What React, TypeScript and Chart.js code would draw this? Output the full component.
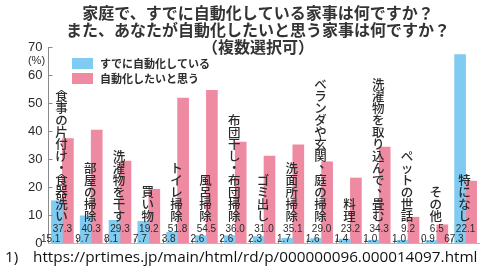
import React, { useEffect, useRef } from "react";
import { Chart, registerables } from "chart.js";

Chart.register(...registerables);

const titleLines = [
  "家庭で、すでに自動化している家事は何ですか？",
  "また、あなたが自動化したいと思う家事は何ですか？",
  "（複数選択可）",
];
const categories = [
  "食事の片付け・食器洗い",
  "部屋の掃除",
  "洗濯物を干す",
  "買い物",
  "トイレ掃除",
  "風呂掃除",
  "布団干し・布団掃除",
  "ゴミ出し",
  "洗面所掃除",
  "ベランダや玄関、庭の掃除",
  "料理",
  "洗濯物を取り込んで、畳む",
  "ペットの世話",
  "その他",
  "特になし",
];
const alreadyAutomated = [15.1, 9.7, 8.1, 7.7, 3.8, 2.6, 2.6, 2.3, 1.7, 1.6, 1.4, 1.0, 1.0, 0.9, 67.3];
const wantToAutomate = [37.3, 40.3, 29.3, 19.2, 51.8, 54.5, 36.0, 31.0, 35.1, 29.0, 23.2, 34.3, 9.2, 6.5, 22.1];
const seriesNames = ["すでに自動化している", "自動化したいと思う"];
const yTicks = [0, 10, 20, 30, 40, 50, 60, 70];
const yUnit = "(%)";
const sourceNote = "1)";
const sourceUrl = "https://prtimes.jp/main/html/rd/p/000000096.000014097.html";

const BLUE = "#7fcbf1";
const PINK = "#ee8aa1";
const TEXT = "#2b2b2b";
const AXIS = "#8a8a8a";
const JP = '"Noto Sans CJK JP", "Noto Sans", sans-serif';
const NUM = '"Liberation Sans", Arial, sans-serif';

const overlay = {
  id: "overlay",
  afterDatasetsDraw(chart: any) {
    const { ctx, chartArea, scales } = chart;
    const x = scales.x;
    const y = scales.y;
    const n = categories.length;
    const pitch = (chartArea.right - chartArea.left) / n;
    ctx.save();

    // y axis line + inward ticks + labels
    ctx.strokeStyle = AXIS;
    ctx.lineWidth = 1;
    const ax = Math.round(chartArea.left) + 0.5;
    ctx.beginPath();
    ctx.moveTo(ax, y.getPixelForValue(70));
    ctx.lineTo(ax, y.getPixelForValue(0));
    ctx.stroke();
    ctx.fillStyle = TEXT;
    ctx.font = `13px ${NUM}`;
    ctx.textAlign = "right";
    ctx.textBaseline = "middle";
    yTicks.forEach((t) => {
      const py = Math.round(y.getPixelForValue(t)) + 0.5;
      ctx.beginPath();
      ctx.moveTo(ax, py);
      ctx.lineTo(ax + 4, py);
      ctx.stroke();
      ctx.fillText(String(t), ax - 6, py);
    });
    ctx.font = `11px ${NUM}`;
    ctx.textAlign = "center";
    ctx.fillText(yUnit, ax - 12, y.getPixelForValue(70) + 14);

    // baseline + category boundary ticks
    const by = Math.round(y.getPixelForValue(0)) + 0.5;
    ctx.strokeStyle = "#b8b8b8";
    ctx.beginPath();
    ctx.moveTo(ax, by);
    ctx.lineTo(chartArea.right, by);
    ctx.stroke();
    ctx.strokeStyle = AXIS;
    for (let i = 1; i < n; i++) {
      const bx = Math.round(x.getPixelForValue(i) - pitch / 2) + 0.5;
      ctx.beginPath();
      ctx.moveTo(bx, by);
      ctx.lineTo(bx, by - 5);
      ctx.stroke();
    }

    // category labels (vertical)
    ctx.fillStyle = TEXT;
    ctx.font = `500 12.5px ${JP}`;
    ctx.textAlign = "center";
    ctx.textBaseline = "middle";
    categories.forEach((label, i) => {
      const cx = x.getPixelForValue(i) - 1;
      const chars = Array.from(label);
      const bottom = y.getPixelForValue(0) - 27;
      chars.forEach((ch, k) => {
        const cy = bottom - (chars.length - 1 - k) * 12;
        if (ch === "、" || ch === "。") {
          ctx.fillText(ch, cx + 5, cy - 5);
        } else {
          ctx.fillText(ch, cx, cy);
        }
      });
    });

    // value labels
    ctx.font = `10px ${NUM}`;
    categories.forEach((_, i) => {
      const cx = x.getPixelForValue(i);
      ctx.textAlign = "center";
      ctx.fillText(wantToAutomate[i].toFixed(1), cx, y.getPixelForValue(0) - 13.5);
      ctx.textAlign = "right";
      ctx.fillText(alreadyAutomated[i].toFixed(1), cx - 2, y.getPixelForValue(0) - 3.5);
    });

    // legend
    const lx = 72;
    [BLUE, PINK].forEach((c, k) => {
      const ly = 58 + k * 15;
      ctx.fillStyle = c;
      ctx.fillRect(lx, ly, 21, 11);
      ctx.fillStyle = TEXT;
      ctx.font = `bold 11px ${JP}`;
      ctx.textAlign = "left";
      ctx.textBaseline = "middle";
      ctx.fillText(seriesNames[k], lx + 28, ly + 6);
    });

    // title
    ctx.fillStyle = "#333";
    ctx.font = `bold 16px ${JP}`;
    ctx.textAlign = "center";
    ctx.textBaseline = "middle";
    titleLines.forEach((line, k) => {
      ctx.fillText(line, 258, 13 + k * 17);
    });

    // source
    ctx.font = `15.3px "Open Sans", ${NUM}`;
    ctx.textAlign = "left";
    ctx.fillStyle = "#111";
    ctx.fillText(sourceNote, 5, 258);
    ctx.fillText(sourceUrl, 33, 258);

    ctx.restore();
  },
};

export default function App() {
  const ref = useRef<HTMLCanvasElement | null>(null);
  useEffect(() => {
    if (!ref.current) return;
    const chart = new Chart(ref.current, {
      type: "bar",
      data: {
        labels: categories,
        datasets: [
          { label: seriesNames[0], data: alreadyAutomated, backgroundColor: BLUE, barThickness: 11 },
          { label: seriesNames[1], data: wantToAutomate, backgroundColor: PINK, barThickness: 11 },
        ],
      },
      options: {
        responsive: false,
        animation: false,
        layout: { padding: { left: 48, right: 0, top: 47, bottom: 25 } },
        plugins: { legend: { display: false }, title: { display: false }, tooltip: { enabled: false } },
        scales: {
          x: { type: "category", display: false, offset: true },
          y: { min: 0, max: 70, display: false },
        },
      },
      plugins: [overlay],
    });
    return () => chart.destroy();
  }, []);
  return (
    <div style={{ position: "absolute", left: 0, top: 0, width: 480, height: 268, background: "#fff" }}>
      <canvas ref={ref} width={480} height={268} style={{ display: "block" }} />
    </div>
  );
}
